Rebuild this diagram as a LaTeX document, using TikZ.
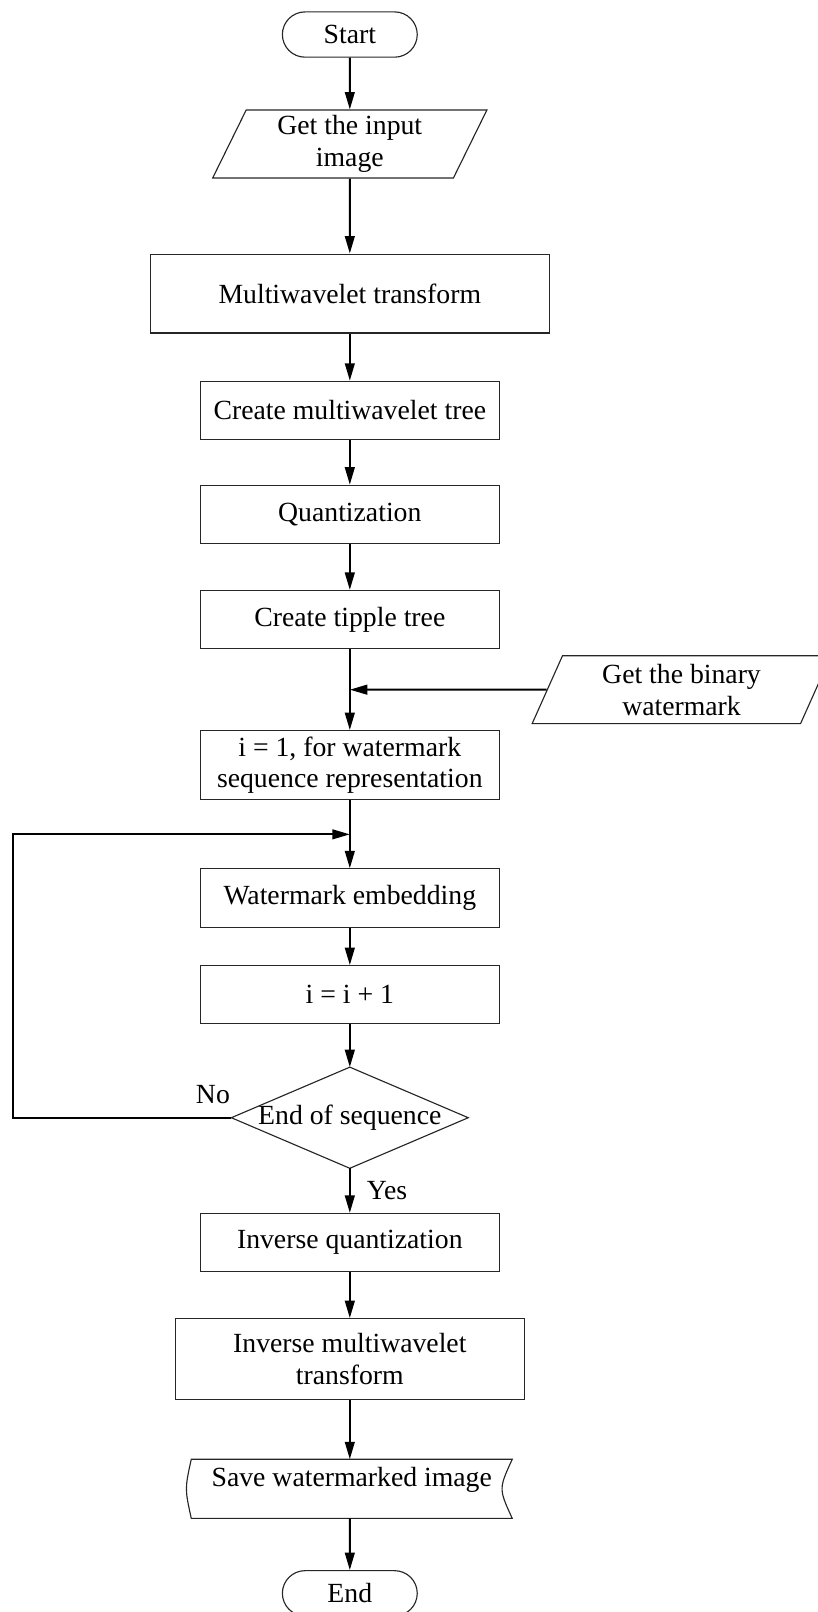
\documentclass[tikz,border=0pt]{standalone}
\usepackage{fontspec}
\setmainfont{Liberation Serif}
\usetikzlibrary{arrows.meta, positioning, shapes.geometric, shapes.misc, calc}

\begin{document}
\begin{tikzpicture}[
  font=\fontsize{12.2}{14}\selectfont,
  >={Triangle[length=0.27cm, width=0.15cm]},
  terminal/.style={
    draw=black!85,
    rounded rectangle,
    minimum width=2.32cm,
    minimum height=0.70cm,
    line width=0.5pt
  },
  io/.style={
    draw=black!85,
    trapezium,
    trapezium left angle=61.5,
    trapezium right angle=118.5,
    trapezium stretches body,
    align=center,
    inner ysep=1pt,
    minimum height=1.05cm,
    line width=0.5pt
  },
  box/.style={
    draw=black!85,
    align=center,
    minimum width=4.62cm,
    minimum height=0.90cm,
    inner ysep=2pt,
    line width=0.5pt
  },
  decision/.style={
    align=center,
    minimum width=3.65cm,
    minimum height=1.55cm
  },
  savebox/.style={
    align=center,
    minimum width=4.95cm,
    minimum height=0.90cm,
    inner ysep=1pt,
    text height=9pt,
    text depth=11pt
  },
  outline/.style={draw=black!85, line width=0.5pt},
  arrow/.style={->, line width=0.9pt, draw=black}
]
\useasboundingbox (0,0) rectangle (12.65,-24.93);

% main column
\node[terminal] (start) at (5.41,-0.534) {Start};
\node[io, minimum width=4.24cm, below=0.80cm of start] (input) {Get the input\\image};
\node[box, minimum width=6.17cm, minimum height=1.22cm, below=1.16cm of input] (mwt) {Multiwavelet transform};
\node[box, below=0.73cm of mwt] (tree) {Create multiwavelet tree};
\node[box, below=0.69cm of tree] (quant) {Quantization};
\node[box, below=0.71cm of quant] (tipple) {Create tipple tree};
\node[box, minimum height=1.07cm, below=1.25cm of tipple] (init) {i = 1, for watermark\\sequence representation};
\node[box, below=1.05cm of init] (embed) {Watermark embedding};
\node[box, below=0.58cm of embed] (incr) {i = i + 1};
\node[decision, below=0.66cm of incr] (check) {End of sequence};
\node[box, below=0.69cm of check] (invq) {Inverse quantization};
\node[box, minimum width=5.40cm, minimum height=1.25cm, below=0.71cm of invq] (invmwt) {Inverse multiwavelet\\transform};
\node[savebox, below=0.915cm of invmwt, xshift=0.03cm] (save) {Save watermarked image};
\node[terminal, below=0.80cm of save.south -| invmwt] (end) {End};

% decision and stored-data outlines
\draw[outline] (check.north) -- (check.east) -- (check.south) -- (check.west) -- cycle;
\draw[outline] (save.north west)
  .. controls ($(save.north west)!0.5!(save.south west)+(-0.10,0)$) .. (save.south west)
  -- (save.south east)
  .. controls ($(save.north east)!0.5!(save.south east)+(-0.21,0)$) .. (save.north east)
  -- cycle;

% side input and loop junctions
\coordinate (feed) at ($(tipple.south)!0.5!(init.north)$);
\coordinate (loopin) at ($(init.south)!0.5!(embed.north)$);
\coordinate (loopleft) at (0.20,0);
\node[io, minimum width=4.62cm] (binary) at ($(feed)+(5.13,0)$) {Get the binary\\watermark};

% connectors
\draw[arrow] (start) -- (input);
\draw[arrow] (input) -- (mwt);
\draw[arrow] (mwt) -- (tree);
\draw[arrow] (tree) -- (quant);
\draw[arrow] (quant) -- (tipple);
\draw[arrow] (tipple) -- (init);
\draw[arrow] (binary.west) -- (feed);
\draw[arrow] (init) -- (embed);
\draw[arrow] (embed) -- (incr);
\draw[arrow] (incr) -- (check.north);
\draw[arrow] (check.west) -- node[pos=0, anchor=south east, xshift=0.11cm, yshift=0.08cm]{No} (check.west -| loopleft) |- (loopin);
\draw[arrow] (check.south) -- node[right, xshift=0.13cm]{Yes} (invq);
\draw[arrow] (invq) -- (invmwt);
\draw[arrow] (invmwt) -- (save.north -| invmwt);
\draw[arrow] (save.south -| invmwt) -- (end);

\end{tikzpicture}
\end{document}
